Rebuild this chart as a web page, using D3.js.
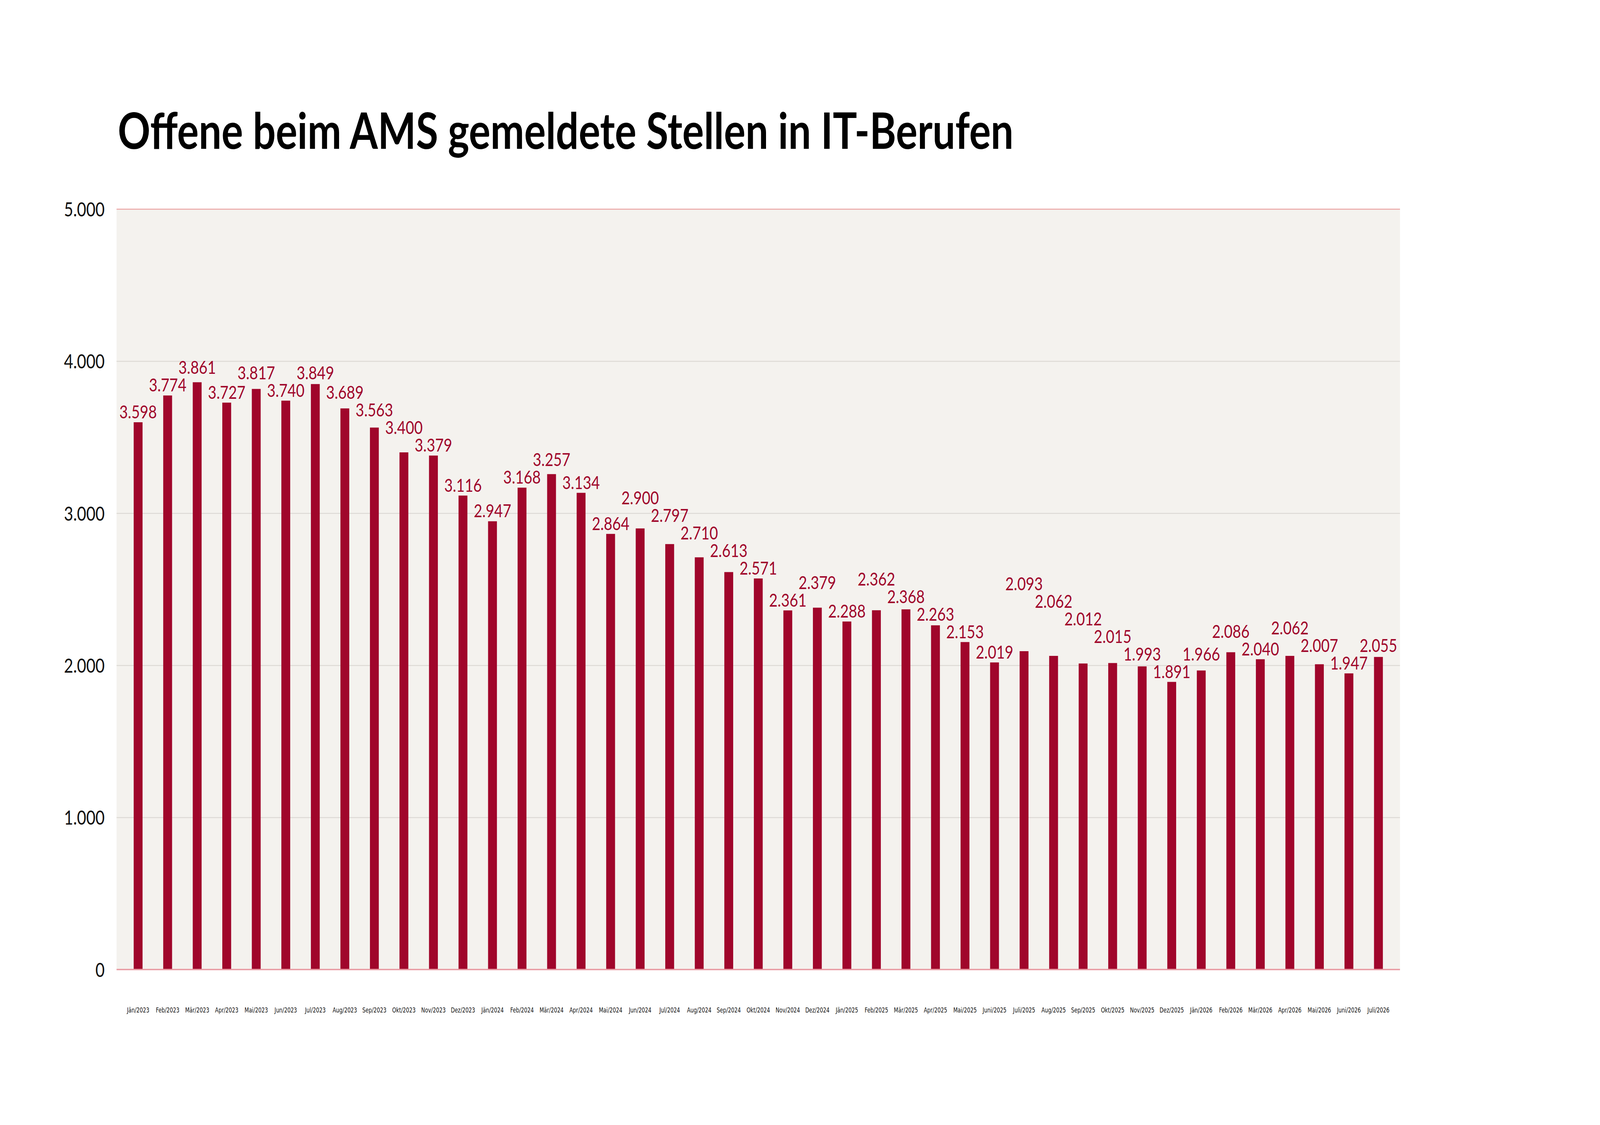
<!DOCTYPE html>
<html>
<head>
<meta charset="utf-8">
<script src="https://cdn.jsdelivr.net/npm/d3@7/dist/d3.min.js"></script>
<style>
  html, body { margin: 0; padding: 0; background: #ffffff; overflow: hidden; }
  svg { display: block; width: 100vw; height: 100vh; }
</style>
</head>
<body>
<svg id="chart" viewBox="0 0 5120 2880" preserveAspectRatio="none"></svg>
<script>
const title = "Offene beim AMS gemeldete Stellen in IT-Berufen";

const months = [
  "Jän/2023","Feb/2023","Mär/2023","Apr/2023","Mai/2023","Jun/2023","Jul/2023","Aug/2023","Sep/2023","Okt/2023","Nov/2023","Dez/2023",
  "Jän/2024","Feb/2024","Mär/2024","Apr/2024","Mai/2024","Jun/2024","Jul/2024","Aug/2024","Sep/2024","Okt/2024","Nov/2024","Dez/2024",
  "Jän/2025","Feb/2025","Mär/2025","Apr/2025","Mai/2025","Juni/2025","Juli/2025","Aug/2025","Sep/2025","Okt/2025","Nov/2025","Dez/2025",
  "Jän/2026","Feb/2026","Mär/2026","Apr/2026","Mai/2026","Juni/2026","Juli/2026"
];

const openPositions = [
  3598, 3774, 3861, 3727, 3817, 3740, 3849, 3689, 3563, 3400, 3379, 3116,
  2947, 3168, 3257, 3134, 2864, 2900, 2797, 2710, 2613, 2571, 2361, 2379,
  2288, 2362, 2368, 2263, 2153, 2019, 2093, 2062, 2012, 2015, 1993, 1891,
  1966, 2086, 2040, 2062, 2007, 1947, 2055
];

const yTicks = [0, 1000, 2000, 3000, 4000, 5000];
const yDomain = [0, 5000];

const de = d3.formatLocale({ decimal: ",", thousands: ".", grouping: [3], currency: ["", " €"] });
const fmt = de.format(",d");

const W = 5120, H = 2880;
const plot = { left: 373, right: 4480, top: 535, bottom: 2482 };
const barColor = "#a0062b";

const svg = d3.select("#chart");
svg.append("rect").attr("width", W).attr("height", H).attr("fill", "#ffffff");

const x = d3.scaleBand()
  .domain(months)
  .range([plot.left, plot.right])
  .paddingInner(0.70)
  .paddingOuter(0.58);

const y = d3.scaleLinear().domain(yDomain).range([plot.bottom, plot.top]);

// plot background
svg.append("rect")
  .attr("x", plot.left).attr("y", y(yDomain[1]))
  .attr("width", plot.right - plot.left)
  .attr("height", y(yDomain[0]) - y(yDomain[1]))
  .attr("fill", "#f4f2ee");

// gridlines + y labels
const yAxis = d3.axisLeft(y).tickValues(yTicks).tickSize(-(plot.right - plot.left)).tickFormat(d => fmt(d)).tickPadding(38);
const gy = svg.append("g").attr("transform", `translate(${plot.left},0)`).call(yAxis);
gy.select(".domain").remove();
gy.selectAll(".tick line")
  .attr("stroke", d => (d === yDomain[1]) ? "#eba3a3" : (d === 0 ? "none" : "#dddad5"))
  .attr("stroke-width", 2.5);
gy.selectAll(".tick text")
  .attr("font-family", "Lato, 'Noto Sans', sans-serif")
  .attr("font-weight", 400)
  .attr("font-size", 51)
  .attr("fill", "#111111")
  .attr("dy", "0.36em");

// bars
svg.append("g").selectAll("rect.bar")
  .data(openPositions)
  .join("rect")
  .attr("class", "bar")
  .attr("x", (d, i) => x(months[i]))
  .attr("width", x.bandwidth())
  .attr("y", d => y(d))
  .attr("height", d => y(0) - y(d))
  .attr("fill", barColor);

// baseline
svg.append("line")
  .attr("x1", plot.left).attr("x2", plot.right)
  .attr("y1", y(0)).attr("y2", y(0))
  .attr("stroke", "#e89aa2").attr("stroke-width", 3.5);

// x axis labels
const xAxis = d3.axisBottom(x).tickSize(0).tickPadding(97);
const gx = svg.append("g").attr("transform", `translate(0,${y(0)})`).call(xAxis);
gx.select(".domain").remove();
gx.selectAll(".tick text")
  .attr("font-family", "'DejaVu Sans Condensed', 'DejaVu Sans', sans-serif")
  .attr("font-size", 18)
  .attr("fill", "#111111");

// value labels with simple collision avoidance
const labelG = svg.append("g");
const labels = labelG.selectAll("text.val")
  .data(openPositions)
  .join("text")
  .attr("class", "val")
  .attr("text-anchor", "middle")
  .attr("font-family", "Lato, 'Noto Sans', sans-serif")
  .attr("font-size", 47)
  .attr("fill", barColor)
  .attr("x", (d, i) => x(months[i]) + x.bandwidth() / 2)
  .text(d => fmt(d));

const info = [];
labels.each(function(d, i) {
  const w = this.getComputedTextLength();
  info.push({ cx: x(months[i]) + x.bandwidth() / 2, w: w, yb: y(d) - 10 });
});
const minSep = 45;
for (let pass = 0; pass < 300; pass++) {
  let moved = false;
  for (let i = 0; i < info.length - 1; i++) {
    const a = info[i], b = info[i + 1];
    const hOverlap = Math.abs(a.cx - b.cx) < (a.w + b.w) / 2 + 4;
    if (!hOverlap) continue;
    const diff = Math.abs(a.yb - b.yb);
    if (diff < minSep - 0.01) {
      if (a.yb <= b.yb + 1.8) a.yb = b.yb - minSep; else b.yb = a.yb - minSep;
      moved = true;
    }
  }
  if (!moved) break;
}
labels.attr("y", (d, i) => info[i].yb);

// title
const t = svg.append("text")
  .attr("x", 377).attr("y", 381)
  .attr("font-family", "Lato, 'Noto Sans', sans-serif")
  .attr("font-weight", 700)
  .attr("font-size", 128)
  .attr("fill", "#000000")
  .text(title);
const tw = t.node().getComputedTextLength();
t.attr("font-size", 128 * 2866 / tw);
</script>
</body>
</html>
